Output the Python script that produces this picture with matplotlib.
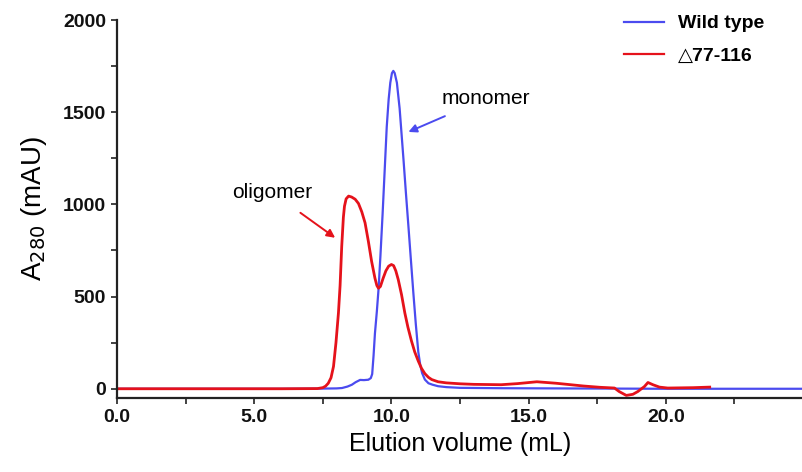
import numpy as np
import matplotlib
matplotlib.use('Agg')
import matplotlib.pyplot as plt

plt.rcParams['font.family'] = ['Liberation Sans', 'DejaVu Sans']

# wild type trace (elution volume mL, A280 mAU)
wt_vol = [0.0, 3.0, 6.0, 7.5, 8.0, 8.2, 8.4, 8.56, 8.7, 8.86, 9.0, 9.16, 9.25, 9.3, 9.35,
          9.4, 9.47, 9.53, 9.6, 9.68, 9.76, 9.83, 9.9, 9.96, 10.02, 10.07, 10.12, 10.2,
          10.3, 10.44, 10.53, 10.62, 10.71, 10.8, 10.89, 10.98, 11.05, 11.12, 11.22, 11.35,
          11.5, 11.7, 12.0, 12.5, 14.0, 16.0, 18.0, 20.0, 22.0, 25.0]
wt_abs = [0, 0, 0, 1, 2, 4, 12, 22, 36, 48, 47, 49, 58, 80, 180,
          300, 420, 538, 720, 950, 1200, 1420, 1570, 1660, 1712, 1724, 1712, 1660,
          1520, 1245, 1060, 882, 700, 520, 350, 200, 130, 85, 50, 30,
          22, 14, 9, 5, 3, 2, 1, 0, 0, 0]

# deletion mutant trace
mut_vol = [0.0, 3.0, 6.0, 7.3, 7.5, 7.6, 7.7, 7.8, 7.89, 7.98, 8.07, 8.13, 8.19, 8.25, 8.29,
           8.35, 8.44, 8.55, 8.68, 8.8, 8.92, 9.04, 9.16, 9.28, 9.4, 9.47, 9.53, 9.6, 9.7,
           9.8, 9.9, 10.0, 10.08, 10.16, 10.25, 10.37, 10.49, 10.6, 10.73, 10.85, 10.98,
           11.1, 11.22, 11.35, 11.47, 11.7, 12.0, 12.5, 13.0, 14.0, 14.6, 15.3,
           16.0, 17.0, 17.6, 18.13, 18.3, 18.56, 18.8, 18.98, 19.22, 19.35, 19.53, 19.77,
           20.07, 21.0, 21.6]
mut_abs = [0, 0, 0, 1, 6, 14, 30, 60, 121, 250, 411, 560, 773, 930, 990,
           1030, 1045, 1040, 1028, 1005, 960, 900, 800, 690, 600, 560, 545, 555, 600,
           640, 665, 674, 668, 640, 592, 510, 411, 335, 260, 200, 150,
           110, 82, 62, 50, 38, 32, 27, 24, 22, 28, 38,
           30, 15, 8, 4, -15, -36, -30, -15, 12, 34, 22, 9,
           4, 6, 9]

fig = plt.figure(figsize=(8.03, 4.72), dpi=100)
ax = fig.add_axes([0.1457, 0.1568, 0.8543, 0.8008])

ax.plot(wt_vol, wt_abs, color='#4b4bef', lw=1.6, label='Wild type')
ax.plot(mut_vol, mut_abs, color='#e5121b', lw=2.0, label='\u25b377-116')

ax.set_xlim(0, 25)
ax.set_ylim(-50, 2000)

ax.set_xticks(np.arange(0, 25, 2.5))
ax.set_xticklabels(['%.1f' % v if v % 5 == 0 else '' for v in np.arange(0, 25, 2.5)])
ax.set_yticks(np.arange(0, 2001, 250))
ax.set_yticklabels(['%d' % v if v % 500 == 0 else '' for v in np.arange(0, 2001, 250)])

for s in ['top', 'right']:
    ax.spines[s].set_visible(False)
for s in ['left', 'bottom']:
    ax.spines[s].set_linewidth(1.6)
    ax.spines[s].set_color('#222222')
ax.tick_params(direction='out', length=4, width=1.2, colors='#222222', labelsize=14, pad=4)
for lab in ax.get_xticklabels() + ax.get_yticklabels():
    lab.set_fontweight('bold')
    lab.set_color('#111111')

ax.set_xlabel('Elution volume (mL)', fontsize=18, labelpad=4)
ax.set_ylabel('A$_{280}$ (mAU)', fontsize=20, labelpad=10)

ax.annotate('monomer', xy=(10.62, 1393), xytext=(13.45, 1575), fontsize=15,
            ha='center', va='center',
            arrowprops=dict(arrowstyle='-|>', color='#4b4bef', lw=1.4,
                            shrinkA=10, shrinkB=0, mutation_scale=12))
ax.annotate('oligomer', xy=(7.95, 819), xytext=(5.65, 1065), fontsize=15,
            ha='center', va='center',
            arrowprops=dict(arrowstyle='-|>', color='#e5121b', lw=1.4,
                            shrinkA=10, shrinkB=0, mutation_scale=12))

leg = ax.legend(loc='upper left', bbox_to_anchor=(0.713, 1.06), frameon=False,
                handlelength=2.1, handletextpad=0.7, labelspacing=0.75,
                prop={'size': 14, 'weight': 'bold'})
for line in leg.get_lines():
    line.set_linewidth(1.6)

fig.savefig('out.png', dpi=100)
